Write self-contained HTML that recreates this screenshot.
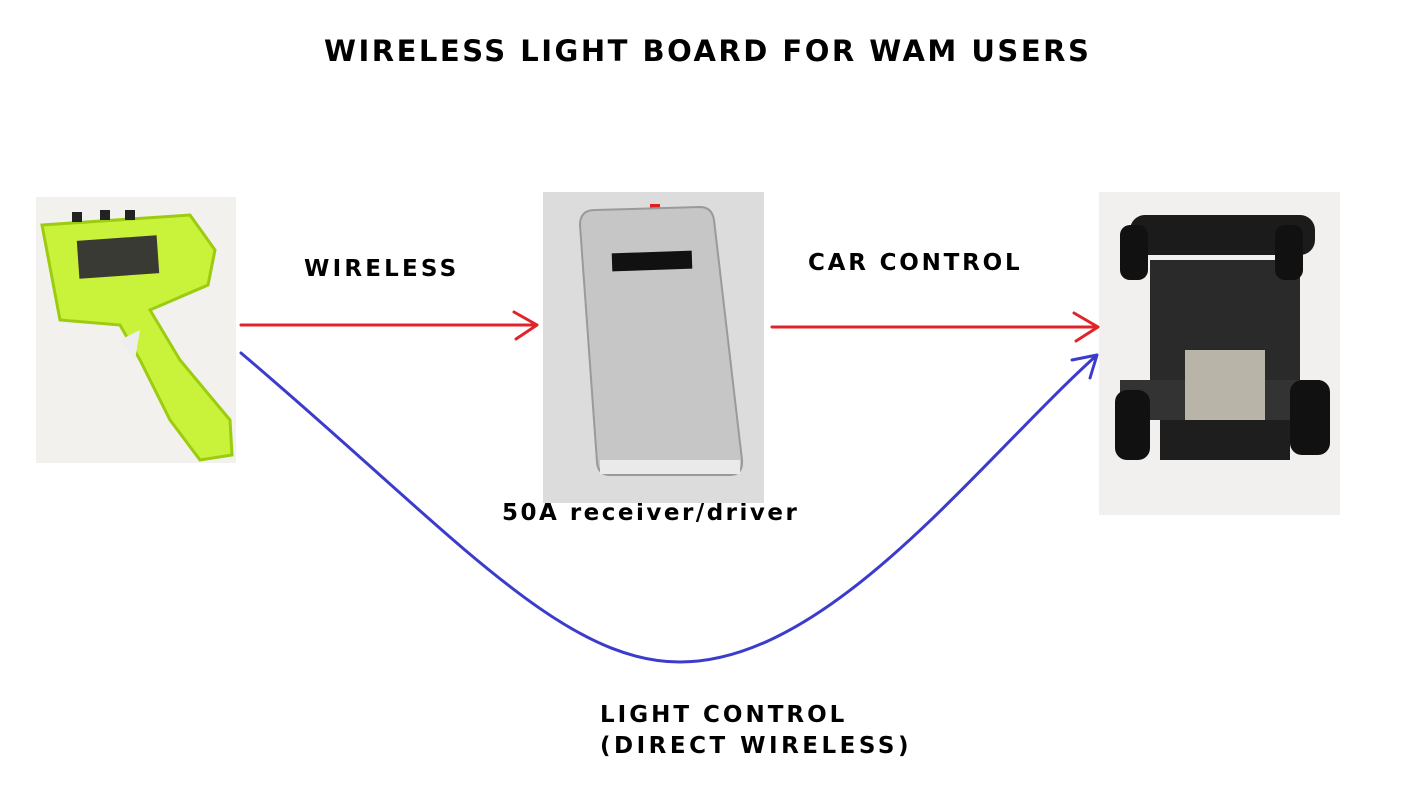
<!DOCTYPE html>
<html><head><meta charset="utf-8"><style>
body{margin:0;width:1406px;height:795px;background:#fff;position:relative;overflow:hidden;font-family:"DejaVu Sans","Liberation Sans",sans-serif;font-weight:bold;color:#000}
.t{position:absolute;white-space:nowrap}
</style></head><body>
<div class="t" style="left:324px;top:34px;font-size:29px;letter-spacing:2.5px">WIRELESS LIGHT BOARD FOR WAM USERS</div>
<div class="t" style="left:304px;top:256px;font-size:23px;letter-spacing:3.2px">WIRELESS</div>
<div class="t" style="left:808px;top:250px;font-size:23px;letter-spacing:2.8px">CAR CONTROL</div>
<div class="t" style="left:502px;top:500px;font-size:23px;letter-spacing:2.5px">50A receiver/driver</div>
<div class="t" style="left:600px;top:700px;font-size:23px;line-height:31px;letter-spacing:3px">LIGHT CONTROL<br><span style="letter-spacing:3.5px">(DIRECT WIRELESS)</span></div>
<svg width="1406" height="795" style="position:absolute;left:0;top:0">
<rect x="36" y="197" width="200" height="266" fill="#f3f1ee"/>
<path d="M42 225 L190 215 L215 250 L208 285 L150 310 L180 360 L230 420 L232 455 L200 460 L170 420 L140 360 L120 325 L60 320 Z" fill="#c9f23a" stroke="#9ccc10" stroke-width="3"/>
<rect x="78" y="238" width="80" height="38" fill="#3a3a34" transform="rotate(-4 118 257)"/>
<rect x="72" y="212" width="10" height="10" fill="#222"/><rect x="100" y="210" width="10" height="10" fill="#222"/><rect x="125" y="210" width="10" height="10" fill="#222"/>
<path d="M120 340 L140 330 L135 360 Z" fill="#eee"/>
<rect x="543" y="192" width="221" height="311" fill="#dcdcdc"/>
<rect x="650" y="204" width="10" height="8" fill="#e02020"/>
<path d="M580 225 Q580 210 595 210 L700 207 Q712 207 714 220 L742 460 Q743 475 730 475 L610 475 Q598 475 597 462 Z" fill="#c6c6c6" stroke="#9a9a9a" stroke-width="2"/>
<rect x="612" y="252" width="80" height="18" fill="#111" transform="rotate(-2 652 261)"/>
<rect x="600" y="460" width="140" height="14" fill="#eaeaea"/>
<rect x="1099" y="192" width="241" height="323" fill="#f1f0ef"/>
<rect x="1130" y="215" width="185" height="40" rx="15" fill="#1b1b1b"/>
<rect x="1150" y="260" width="150" height="160" fill="#2a2a2a"/>
<rect x="1120" y="380" width="200" height="40" fill="#333"/>
<rect x="1115" y="390" width="35" height="70" rx="12" fill="#111"/>
<rect x="1290" y="380" width="40" height="75" rx="12" fill="#111"/>
<rect x="1120" y="225" width="28" height="55" rx="10" fill="#111"/>
<rect x="1275" y="225" width="28" height="55" rx="10" fill="#111"/>
<rect x="1185" y="350" width="80" height="70" fill="#b8b4a8"/>
<rect x="1160" y="420" width="130" height="40" fill="#1e1e1e"/>
<g fill="none" stroke-width="3" stroke-linecap="round" stroke-linejoin="round">
<path d="M241 325 L537 325 M514 312 L537 325 L516 339" stroke="#e0242a"/>
<path d="M772 327 L1098 327 M1074 313 L1098 327 L1076 341" stroke="#e0242a"/>
<path d="M241 353 C450 530 560 662 680 662 C830 662 980 460 1097 355 M1072 360 L1097 355 L1090 378" stroke="#3c3ccc"/>
</g>
</svg>
</body></html>
